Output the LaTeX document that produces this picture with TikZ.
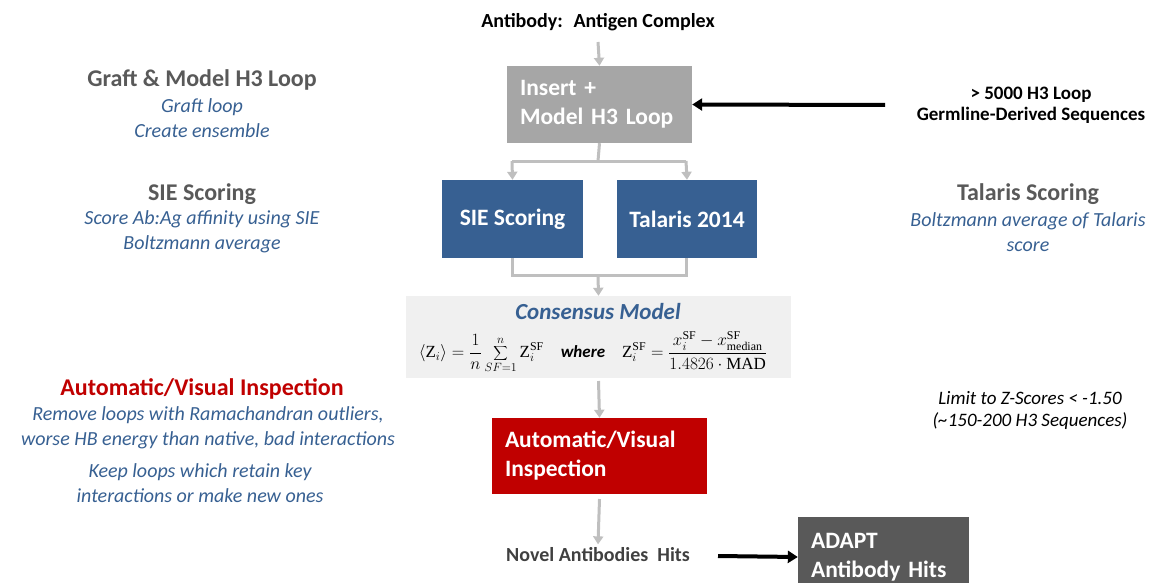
\documentclass[tikz,border=0pt]{standalone}
\usepackage{fontspec}
\setmainfont{Carlito}
\setmathrm{Liberation Serif}
\usetikzlibrary{arrows.meta,calc}
\definecolor{arrgray}{HTML}{BFBFBF}
\definecolor{boxgray}{HTML}{A6A6A6}
\definecolor{boxblue}{HTML}{376092}
\definecolor{boxred}{HTML}{C00000}
\definecolor{boxdark}{HTML}{595959}
\definecolor{consbg}{HTML}{F0F0F0}
\definecolor{headgray}{HTML}{595959}
\definecolor{txtblue}{HTML}{376092}
\definecolor{txtdark}{HTML}{404040}
\begin{document}
\begin{tikzpicture}[x=1pt,y=-1pt,
  flowbox/.style={inner sep=0pt, text=white, font=\fontsize{23.5}{29}\selectfont\bfseries},
  garrow/.style={draw=arrgray, line width=3pt, -{Triangle[width=10pt,length=8pt]}},
  gline/.style={draw=arrgray, line width=3pt},
  karrow/.style={draw=black, line width=4pt, -{Triangle[width=12pt,length=10pt]}},
  headtxt/.style={font=\fontsize{24}{26}\selectfont\bfseries, text=headgray},
  desctxt/.style={font=\fontsize{20}{25}\selectfont\itshape, text=txtblue, align=center},
  ]
\useasboundingbox (0,0) rectangle (1153,583);

% top title
\node[font=\fontsize{20}{22}\selectfont\bfseries] (title) at (598,22) {Antibody:~ Antigen Complex};

% boxes
\node[flowbox, fill=boxgray, minimum width=185pt, minimum height=77pt, text width=159pt, align=left] (insert) at (599.5,104.5) {Insert +\\Model H3 Loop};
\node[flowbox, fill=boxblue, minimum width=141pt, minimum height=78pt, align=center] (sie) at (512.5,219) {SIE Scoring};
\node[flowbox, fill=boxblue, minimum width=140pt, minimum height=78pt, align=center] (tal) at (687,219) {Talaris 2014};
\node[fill=consbg, inner sep=0pt, minimum width=385pt, minimum height=82pt] (cons) at (598.5,337) {};
\node[font=\fontsize{23}{26}\selectfont\bfseries\itshape, text=txtblue] (constitle) at (598,312) {Consensus Model};
\node[font=\fontsize{17}{20}\selectfont] (formula) at (593,352) {$\displaystyle \langle \mathrm{Z}_i\rangle=\frac{1}{n}\sum_{SF=1}^{n}\mathrm{Z}_i^{\mathrm{SF}}\quad \textbf{\textit{where}}\quad \mathrm{Z}_i^{\mathrm{SF}}=\frac{x_i^{\mathrm{SF}}-x_{\mathrm{median}}^{\mathrm{SF}}}{1.4826\cdot\mathrm{MAD}}$};
\node[flowbox, fill=boxred, minimum width=215pt, minimum height=76pt, text width=189pt, align=left] (insp) at (599.5,456) {Automatic/Visual\\Inspection};
\node[font=\fontsize{20}{22}\selectfont\bfseries, text=txtdark] (novel) at (598,555) {Novel Antibodies~ Hits};
\node[flowbox, fill=boxdark, minimum width=171pt, minimum height=80pt, text width=145pt, align=left] (adapt) at (883.5,557) {ADAPT\\Antibody Hits};

% right side texts
\node[font=\fontsize{19}{21}\selectfont\bfseries, align=center] (germ) at (1031,105) {> 5000 H3 Loop\\Germline-Derived Sequences};
\node[headtxt] (talhead) at (1028,194) {Talaris Scoring};
\node[desctxt] (taldesc) at (1028,232) {Boltzmann average of Talaris\\score};
\node[font=\fontsize{19}{22}\selectfont\itshape, align=center] (limit) at (1030,410) {Limit to Z-Scores < -1.50\\(\textasciitilde150-200 H3 Sequences)};

% left side texts
\node[headtxt] (grafthead) at (202,80) {Graft \& Model H3 Loop};
\node[desctxt] (graftdesc) at (202,118) {Graft loop\\Create ensemble};
\node[headtxt] (siehead) at (202,194) {SIE Scoring};
\node[desctxt] (siedesc) at (202,232) {Score Ab:Ag affinity using SIE\\Boltzmann average};
\node[headtxt, text=boxred] (insphead) at (202,389) {Automatic/Visual Inspection};
\node[desctxt] (inspdesc1) at (208,428) {Remove loops with Ramachandran outliers,\\worse HB energy than native, bad interactions};
\node[desctxt] (inspdesc2) at (200,483) {Keep loops which retain key\\interactions or make new ones};

% coordinates for branches
\coordinate (split) at (598,161);
\coordinate (splitL) at (512,161);
\coordinate (splitR) at (686,161);
\coordinate (joinL) at (512,275);
\coordinate (joinR) at (686,275);
\coordinate (join) at (598,275);
\coordinate (germstart) at (885,105);
\coordinate (novelstart) at (718,556);

% connectors
\draw[garrow] (title.south |- 0,42) -- (insert.north);
\draw[gline] (insert.south) -- (split);
\draw[gline] (splitL) -- (splitR);
\draw[garrow] (splitL) -- (sie.north);
\draw[garrow] (splitR) -- (tal.north);
\draw[gline] (sie.south -| joinL) -- (joinL) -- (joinR) -- (tal.south -| joinR);
\draw[garrow] (join) -- (cons.north);
\draw[garrow] (cons.south |- 0,381) -- (insp.north);
\draw[garrow] (insp.south |- 0,499) -- (novel.north);
\draw[karrow] (germstart) -- (insert.east);
\draw[karrow] (novelstart) -- (adapt.west);
\end{tikzpicture}
\end{document}
